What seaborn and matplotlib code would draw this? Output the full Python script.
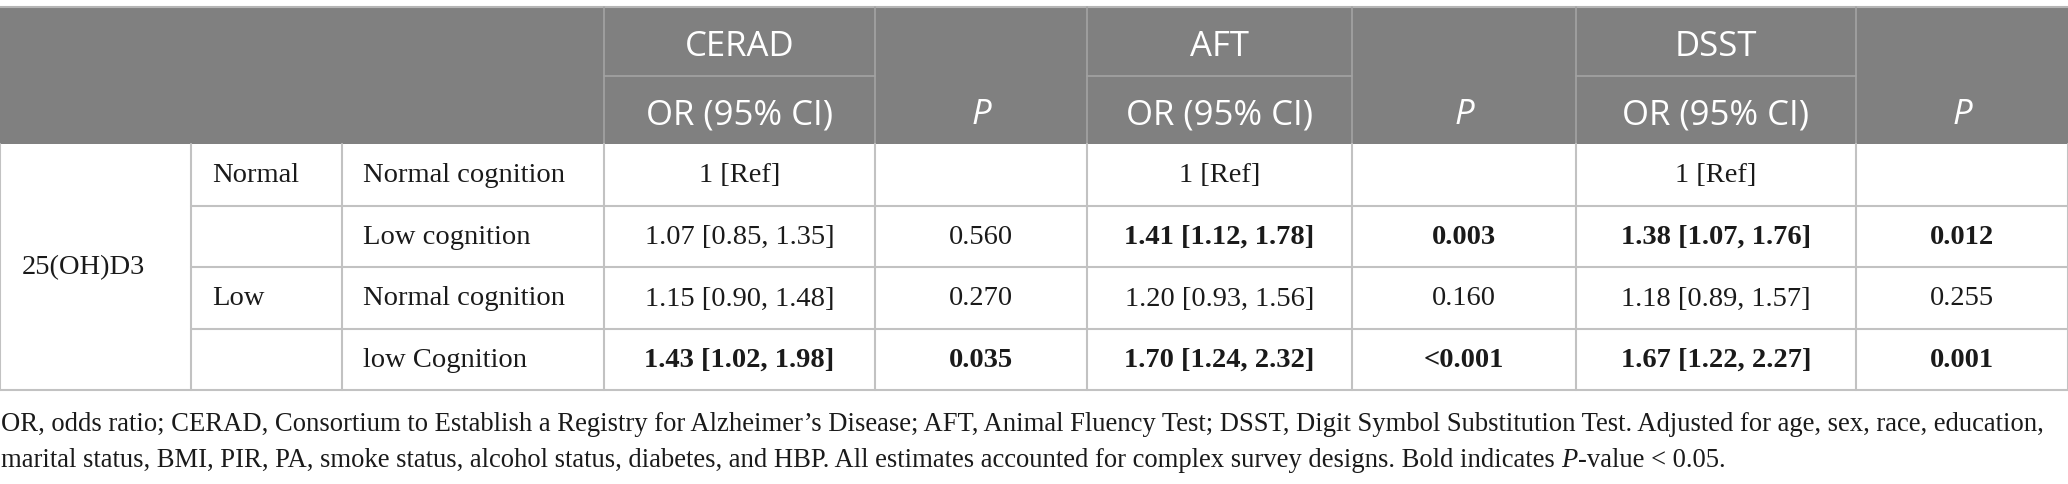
import seaborn as sns
import matplotlib.pyplot as plt

# table content
levels = ["Normal", "", "Low", ""]
cognition = ["Normal cognition", "Low cognition", "Normal cognition", "low Cognition"]
tests = ["CERAD", "AFT", "DSST"]
cerad_or = ["1 [Ref]", "1.07 [0.85, 1.35]", "1.15 [0.90, 1.48]", "1.43 [1.02, 1.98]"]
cerad_p = ["", "0.560", "0.270", "0.035"]
aft_or = ["1 [Ref]", "1.41 [1.12, 1.78]", "1.20 [0.93, 1.56]", "1.70 [1.24, 2.32]"]
aft_p = ["", "0.003", "0.160", "<0.001"]
dsst_or = ["1 [Ref]", "1.38 [1.07, 1.76]", "1.18 [0.89, 1.57]", "1.67 [1.22, 2.27]"]
dsst_p = ["", "0.012", "0.255", "0.001"]
footnote_1 = ("OR, odds ratio; CERAD, Consortium to Establish a Registry for Alzheimer\u2019s Disease; "
              "AFT, Animal Fluency Test; DSST, Digit Symbol Substitution Test. Adjusted for age, sex, race, education,")
footnote_2 = ["marital status, BMI, PIR, PA, smoke status, alcohol status, diabetes, and HBP. "
              "All estimates accounted for complex survey designs. Bold indicates ", "P", "-value < 0.05."]


def is_sig(p):
    if p == "":
        return False
    return float(p.replace("<", "")) < 0.05


sns.set_theme(style="white")

# layout in pixels
W, H = 2068, 485
col_x = [0, 191, 342, 604, 875, 1087, 1352, 1576, 1856, 2068]
top, sub, head_bot = 8, 77, 145
row_y = [145, 207, 268, 330, 391]

HEAD_BG = "#808080"
HEAD_LINE = "#a3a3a3"
GRID = "#c2c2c2"
INK = "#1a1a1a"
sans = "Open Sans"
serif = "Liberation Serif"
hsize = 25
bsize = 20.5

fig = plt.figure(figsize=(W / 100, H / 100), dpi=100)
ax = fig.add_axes([0, 0, 1, 1])
ax.set_xlim(0, W)
ax.set_ylim(H, 0)
ax.axis("off")

# header background
ax.fill_between([col_x[0], col_x[-1]], top, head_bot, color=HEAD_BG, lw=0)
ax.plot([0, W], [top, top], color="#b5b5b5", lw=1.5)

# header lines and labels
for x in col_x[3:-1]:
    ax.plot([x, x], [top, head_bot], color=HEAD_LINE, lw=1.2)
for i in range(3):
    x0, x1 = col_x[3 + 2 * i], col_x[4 + 2 * i]
    ax.plot([x0, x1], [sub, sub], color=HEAD_LINE, lw=1.2)
    cx = (x0 + x1) / 2
    ax.text(cx, (top + sub) / 2 + 4, tests[i], ha="center", va="center",
            color="white", fontsize=hsize, family=sans)
    ax.text(cx, (sub + head_bot) / 2 + 4, "OR (95% CI)", ha="center", va="center",
            color="white", fontsize=hsize, family=sans)
    px = (col_x[4 + 2 * i] + col_x[5 + 2 * i]) / 2
    ax.text(px, (sub + head_bot) / 2 + 4, "P", ha="center", va="center",
            color="white", fontsize=hsize, family=sans, style="italic")

# body grid
for x in col_x:
    ax.plot([x, x], [head_bot, row_y[-1]], color=GRID, lw=1.5)
for y in row_y[1:-1]:
    ax.plot([col_x[1], W], [y, y], color=GRID, lw=1.5)
ax.plot([0, W], [row_y[-1], row_y[-1]], color=GRID, lw=1.5)

# body text
ax.text(col_x[0] + 22, (row_y[0] + row_y[-1]) / 2, "25(OH)D3", ha="left", va="center",
        fontsize=bsize, family=serif, color=INK)
values = [(cerad_or, cerad_p), (aft_or, aft_p), (dsst_or, dsst_p)]
for r in range(4):
    cy = (row_y[r] + row_y[r + 1]) / 2
    ax.text(col_x[1] + 21, cy, levels[r], ha="left", va="center",
            fontsize=bsize, family=serif, color=INK)
    ax.text(col_x[2] + 21, cy, cognition[r], ha="left", va="center",
            fontsize=bsize, family=serif, color=INK)
    for i, (ors, ps) in enumerate(values):
        w = "bold" if is_sig(ps[r]) else "normal"
        ax.text((col_x[3 + 2 * i] + col_x[4 + 2 * i]) / 2, cy, ors[r], ha="center", va="center",
                fontsize=bsize, family=serif, weight=w, color=INK)
        ax.text((col_x[4 + 2 * i] + col_x[5 + 2 * i]) / 2, cy, ps[r], ha="center", va="center",
                fontsize=bsize, family=serif, weight=w, color=INK)

# footnote, shrunk so the first line fits the table width
fig.canvas.draw()
renderer = fig.canvas.get_renderer()
t1 = ax.text(1, 431, footnote_1, ha="left", va="baseline", fontsize=bsize, family=serif, color=INK)
fsize = bsize * 2038 / t1.get_window_extent(renderer).width
t1.set_fontsize(fsize)
x = 1
for k, part in enumerate(footnote_2):
    t = ax.text(x, 467, part, ha="left", va="baseline", fontsize=fsize, family=serif,
                style="italic" if k == 1 else "normal", color=INK)
    x += t.get_window_extent(renderer).width

fig.savefig("out.png", dpi=100)
